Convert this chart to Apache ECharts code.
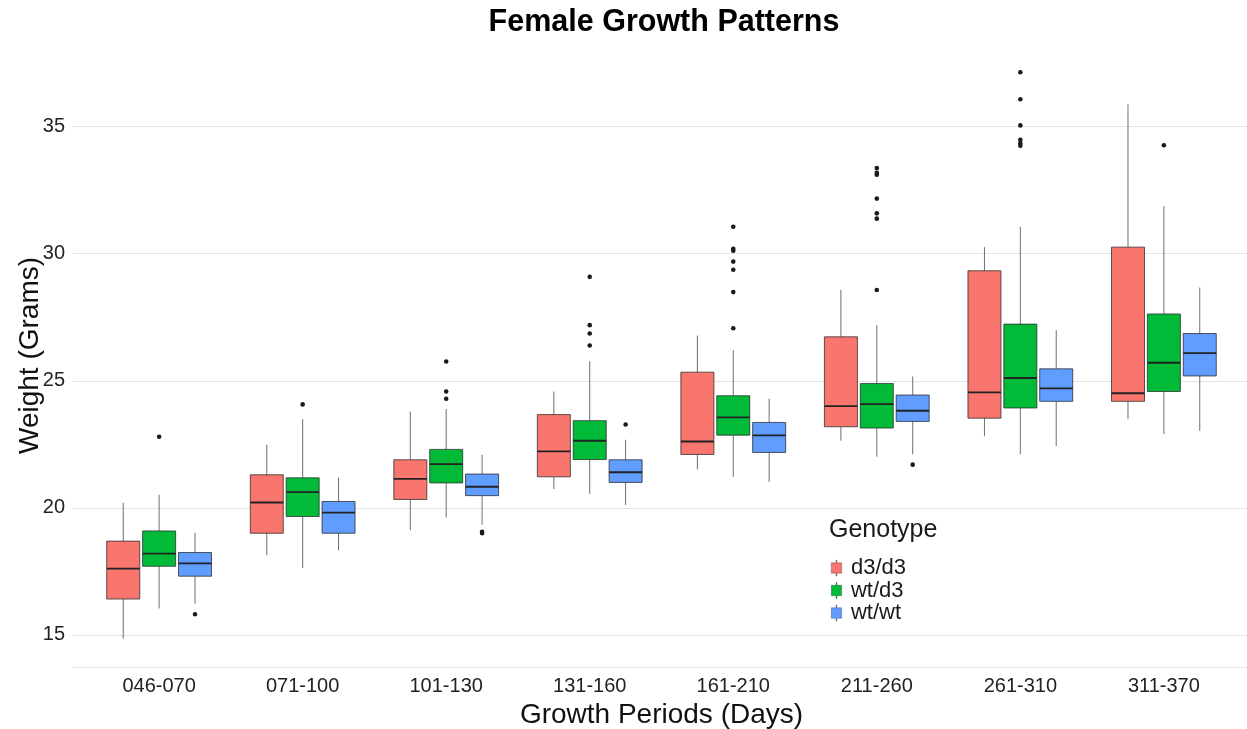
<!DOCTYPE html>
<html>
<head>
<meta charset="utf-8">
<script src="https://cdn.jsdelivr.net/npm/echarts@6/dist/echarts.min.js"></script>
<style>html,body{margin:0;padding:0;background:#fff}#chart{width:1247px;height:729px}</style>
</head>
<body>
<div id="chart"></div>
<script>
// ---- data ----
const categories = ['046-070','071-100','101-130','131-160','161-210','211-260','261-310','311-370'];
const genotypes = ['d3/d3','wt/d3','wt/wt'];
const colors = ['#F8766D','#00BA38','#619CFF'];

// [lower whisker, Q1, median, Q3, upper whisker]
const boxD3D3 = [
  [14.85,16.41,17.61,18.69,20.20],
  [18.14,19.00,20.21,21.30,22.49],
  [19.12,20.33,21.14,21.89,23.79],
  [20.74,21.22,22.22,23.67,24.58],
  [21.51,22.10,22.61,25.34,26.78],
  [22.64,23.19,24.00,26.73,28.58],
  [22.82,23.53,24.54,29.33,30.26],
  [23.49,24.19,24.51,30.26,35.88]
];
const boxWtD3 = [
  [16.04,17.70,18.20,19.09,20.51],
  [17.63,19.66,20.62,21.18,23.49],
  [19.62,20.98,21.72,22.30,23.89],
  [20.55,21.90,22.64,23.43,25.77],
  [21.22,22.86,23.56,24.41,26.21],
  [22.01,23.14,24.08,24.89,27.19],
  [22.11,23.93,25.11,27.23,31.06],
  [22.90,24.58,25.71,27.63,31.88]
];
const boxWtWt = [
  [16.23,17.31,17.81,18.24,19.02],
  [18.33,19.00,19.81,20.25,21.19],
  [19.33,20.48,20.83,21.33,22.09],
  [20.11,21.00,21.40,21.89,22.68],
  [21.02,22.18,22.85,23.36,24.30],
  [22.11,23.40,23.82,24.44,25.17],
  [22.43,24.19,24.70,25.47,26.99],
  [23.03,25.19,26.09,26.86,28.67]
];
// outliers: [category index, value]
const outD3D3 = [];
const outWtD3 = [
  [0,22.80],
  [1,24.07],
  [2,25.76],[2,24.58],[2,24.29],
  [3,29.09],[3,27.19],[3,26.86],[3,26.39],
  [4,31.06],[4,30.19],[4,30.12],[4,29.69],[4,29.37],[4,28.49],[4,27.07],
  [5,33.37],[5,33.19],[5,33.11],[5,32.17],[5,31.59],[5,31.38],[5,28.57],
  [6,37.14],[6,36.08],[6,35.05],[6,34.48],[6,34.34],[6,34.25],
  [7,34.27]
];
const outWtWt = [
  [0,15.81],
  [2,19.06],[2,19.00],
  [3,23.28],
  [5,21.70]
];

// ---- chart ----
const FONT = "'Liberation Sans', Arial, sans-serif";
const boxSets = [boxD3D3, boxWtD3, boxWtWt];
const outSets = [outD3D3, outWtD3, outWtWt];
const DODGE = 0.25;   // offset of each genotype within a category (category units)
const BOX_W = 0.23;   // box width (category units)
const offsets = [-DODGE, 0, DODGE];

// ggplot-like 5% expansion of the y range
let allVals = [];
boxSets.forEach(s => s.forEach(b => allVals.push(...b)));
outSets.forEach(s => s.forEach(o => allVals.push(o[1])));
const dMin = Math.min(...allVals), dMax = Math.max(...allVals);
const yPad = (dMax - dMin) * 0.05;

function renderBox(params, api) {
  const off = offsets[params.seriesIndex % 3];
  const x = api.value(0) + off;
  const w = api.size([BOX_W, 0])[0];
  const pLo = api.coord([x, api.value(1)]);
  const pQ1 = api.coord([x, api.value(2)]);
  const pMed = api.coord([x, api.value(3)]);
  const pQ3 = api.coord([x, api.value(4)]);
  const pHi = api.coord([x, api.value(5)]);
  const c = pMed[0];
  const fill = colors[params.seriesIndex % 3];
  return {
    type: 'group',
    children: [
      {type:'line', shape:{x1:c, y1:pHi[1], x2:c, y2:pQ3[1]}, style:{stroke:'#6f6f6f', lineWidth:1}},
      {type:'line', shape:{x1:c, y1:pQ1[1], x2:c, y2:pLo[1]}, style:{stroke:'#6f6f6f', lineWidth:1}},
      {type:'rect', shape:{x:c - w/2, y:pQ3[1], width:w, height:pQ1[1]-pQ3[1]},
        style:{fill:fill, stroke:'rgba(40,40,40,0.75)', lineWidth:1}},
      {type:'line', shape:{x1:c - w/2, y1:pMed[1], x2:c + w/2, y2:pMed[1]}, style:{stroke:'#222', lineWidth:1.8}}
    ]
  };
}
function renderOutlier(params, api) {
  const off = offsets[params.seriesIndex % 3];
  const p = api.coord([api.value(0) + off, api.value(1)]);
  return {type:'circle', shape:{cx:p[0], cy:p[1], r:2.3}, style:{fill:'#1a1a1a'}};
}

const series = [];
genotypes.forEach((g, k) => {
  series.push({
    name: g, type: 'custom', renderItem: renderBox,
    itemStyle: {color: colors[k]},
    encode: {x: 0, y: [1,2,3,4,5]},
    data: boxSets[k].map((b, i) => [i, ...b]),
    z: 2
  });
});
genotypes.forEach((g, k) => {
  series.push({
    name: g, type: 'custom', renderItem: renderOutlier,
    itemStyle: {color: colors[k]},
    encode: {x: 0, y: 1},
    data: outSets[k],
    z: 3
  });
});

const chart = echarts.init(document.getElementById('chart'), null, {renderer: 'canvas'});
chart.setOption({
  animation: false,
  backgroundColor: '#ffffff',
  textStyle: {fontFamily: FONT},
  title: [
    {text: 'Female Growth Patterns', left: 659, top: 2, textAlign: 'center',
      textStyle: {fontFamily: FONT, fontSize: 30.5, fontWeight: 'bold', color: '#000'}},
    {text: 'Genotype', left: 824, top: 513,
      textStyle: {fontFamily: FONT, fontSize: 25, fontWeight: 'normal', color: '#1a1a1a'}}
  ],
  legend: {
    orient: 'vertical', left: 826, top: 552,
    data: genotypes,
    itemWidth: 11, itemHeight: 16, itemGap: 0.5,
    icon: 'path://M5,0L6,0L6,3L11,3L11,14L6,14L6,17L5,17L5,14L0,14L0,3L5,3Z',
    itemStyle: {borderColor: 'rgba(60,60,60,0.6)', borderWidth: 0.6},
    textStyle: {fontFamily: FONT, fontSize: 22, color: '#1a1a1a', padding: [0,0,0,4]}
  },
  grid: {left: 73, right: -3, top: 44, bottom: 62, containLabel: false, outerBoundsMode: 'none'},
  xAxis: {
    type: 'value', min: -0.6, max: 7.6, minInterval: 1, maxInterval: 1,
    name: 'Growth Periods (Days)', nameLocation: 'middle', nameGap: 27,
    nameTextStyle: {fontFamily: FONT, fontSize: 28, color: '#111'},
    axisLine: {show: true, onZero: false, lineStyle: {color: '#e3e3e3', width: 1}},
    axisTick: {show: false},
    splitLine: {show: false},
    axisLabel: {
      fontFamily: FONT, fontSize: 20, color: '#222', margin: 9,
      showMinLabel: false, showMaxLabel: false,
      formatter: v => (Math.abs(v - Math.round(v)) < 1e-6 && categories[Math.round(v)] !== undefined) ? categories[Math.round(v)] : ''
    }
  },
  yAxis: {
    type: 'value', min: dMin - yPad, max: dMax + yPad,
    name: 'Weight (Grams)', nameLocation: 'middle', nameGap: 29, nameMoveOverlap: false,
    nameTextStyle: {fontFamily: FONT, fontSize: 28, color: '#111'},
    axisLine: {show: false, onZero: false}, axisTick: {show: false},
    splitLine: {show: true, showMinLine: false, showMaxLine: false, lineStyle: {color: '#e3e3e3', width: 1}},
    axisLabel: {
      fontFamily: FONT, fontSize: 20, color: '#222', margin: 8,
      showMinLabel: false, showMaxLabel: false,
      formatter: v => (Math.abs(v / 5 - Math.round(v / 5)) < 1e-6) ? String(Math.round(v)) : ''
    }
  },
  series: series
});
</script>
</body>
</html>
